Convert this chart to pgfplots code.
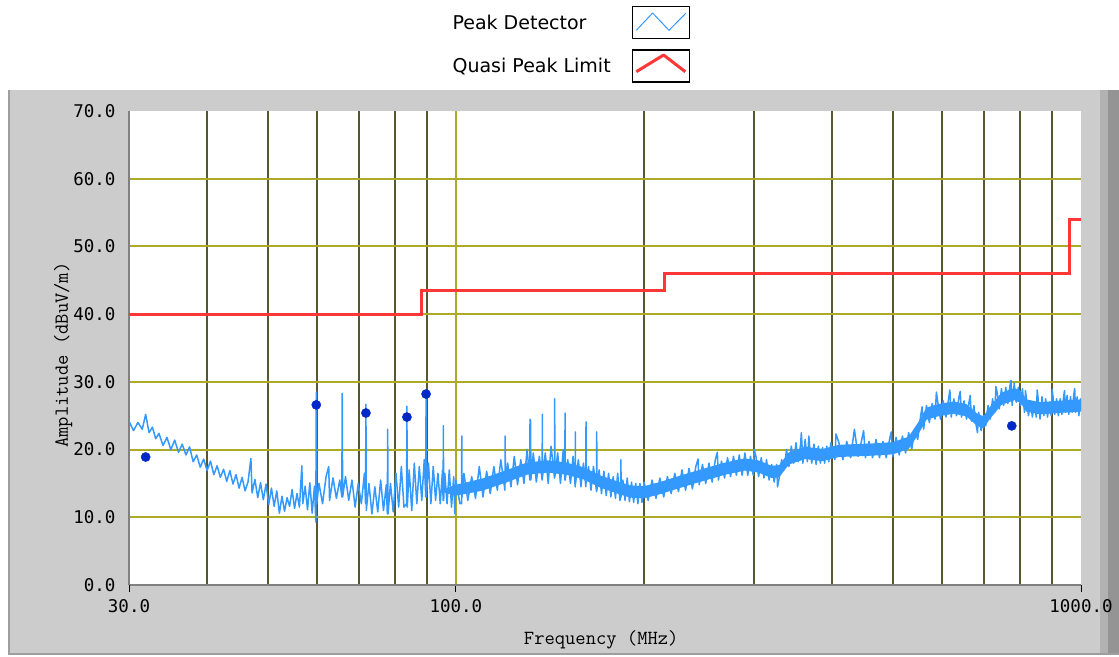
\documentclass[border=0pt]{standalone}
\usepackage{pgfplots}
\pgfplotsset{compat=1.18}
\usepackage{fontspec}
\setmainfont{DejaVu Sans}
\newfontfamily\tickfam{DejaVu Sans Mono}
\definecolor{peakblue}{RGB}{51,153,255}
\definecolor{dotblue}{RGB}{0,40,200}
\definecolor{limitred}{RGB}{255,55,55}
\definecolor{gridolive}{RGB}{172,170,40}
\definecolor{griddark}{RGB}{88,88,48}
\definecolor{panelgray}{RGB}{204,204,204}
\definecolor{axisgray}{RGB}{128,128,128}
\newcommand\tickfont{\tickfam\fontsize{17.5bp}{20bp}\selectfont}
\newcommand\labfont{\ttfamily\fontsize{20bp}{22bp}\selectfont}
\newcommand\legfont{\fontsize{19bp}{22bp}\selectfont}
\begin{document}
\begin{tikzpicture}
\useasboundingbox (0,0) rectangle (1119bp,657bp);
\fill[panelgray] (8bp,2bp) rectangle (1119bp,567bp);
\fill[black!30] (1100bp,2bp) rectangle (1108bp,567bp);
\fill[black!42] (1108bp,2bp) rectangle (1119bp,567bp);
\fill[black!38] (8bp,2bp) rectangle (10bp,567bp);
\fill[black!38] (8bp,2bp) rectangle (1119bp,4bp);
\begin{axis}[
  at={(129bp,72bp)}, anchor=south west,
  scale only axis, width=952bp, height=474bp,
  xmode=log, xmin=30, xmax=1000, ymin=0, ymax=70,
  xtick={100}, xticklabels={100.0},
  extra x ticks={30,1000}, extra x tick labels={30.0,1000.0},
  extra x tick style={grid=none},
  minor xtick={40,50,60,70,80,90,200,300,400,500,600,700,800,900},
  ytick={10,20,30,40,50,60}, yticklabels={10.0,20.0,30.0,40.0,50.0,60.0},
  extra y ticks={0,70}, extra y tick labels={0.0,70.0},
  extra y tick style={grid=none},
  xmajorgrids, xminorgrids, ymajorgrids,
  major grid style={draw=gridolive, line width=2bp},
  minor grid style={draw=griddark, line width=2bp},
  axis background/.style={fill=white},
  axis lines*=left,
  axis line style={draw=axisgray, line width=1.2bp},
  tick align=outside,
  major tick length=7bp, minor tick length=0bp,
  xtick style={draw=black, line width=0.8bp},
  ytick style={draw=none},
  tick label style={font=\tickfont, text=black},
  xticklabel style={yshift=-4bp},
  yticklabel style={xshift=-3bp},
  xlabel={Frequency (MHz)}, ylabel={Amplitude (dBuV/m)},
  label style={font=\labfont},
  xlabel style={at={(axis description cs:0.496,-0.116)}, anchor=center},
  ylabel style={at={(axis description cs:-0.0693,0.485)}, anchor=center},
  legend plot pos=right,
  legend style={at={(0.464,1.2215)}, anchor=north, draw=none, fill=none,
    inner sep=0pt, row sep=10bp, column sep=20bp, font=\legfont,
    nodes={inner sep=1bp}},
  legend cell align=left,
]
% solid core of the peak-detector noise band
\addplot[fill=peakblue, draw=none, forget plot] table {
96 14.2
100 14.8
110 15.7
120 16.9
130 18.1
140 18.4
150 18.1
160 17.4
170 16.2
180 15.4
190 14.7
200 14.6
212 15.2
224 15.9
239 16.7
254 17.4
270 18.1
290 18.7
305 18.4
320 17.6
329 17.7
341 19.6
362 20.4
386 20.1
410 20.7
463 20.9
500 21.1
530 21.9
548 23.9
566 26.2
590 26.7
626 27.1
656 26.7
680 25.4
698 24.9
716 26.4
746 28.4
782 29.1
800 28.7
818 27.4
860 27.0
920 27.2
1000 27.4
1000 25.6
920 25.4
860 25.2
818 25.6
800 26.9
782 27.3
746 26.6
716 24.6
698 23.1
680 23.6
656 24.9
626 25.3
590 24.9
566 24.4
548 22.1
530 20.1
500 19.3
463 19.1
410 18.9
386 18.3
362 18.6
341 17.8
329 15.9
320 15.8
305 16.6
290 16.9
270 16.3
254 15.6
239 14.9
224 14.1
212 13.4
200 12.8
190 12.9
180 13.6
170 14.4
160 15.6
150 16.3
140 16.6
130 16.3
120 15.1
110 13.9
100 13.2
96 13.6
} -- cycle;
\addplot[peakblue, line width=1.5bp, line join=round,
  legend image code/.code={
    \draw[black, line width=1.2bp, fill=white] (0bp,-16bp) rectangle (57bp,16bp);
    \draw[peakblue, line width=1bp] (4bp,-7.5bp) -- (20.3bp,9.8bp) -- (36.7bp,-7.5bp) -- (53.7bp,9.8bp);
  }] table {
30.0 24.2
30.5 22.8
31.0 24.0
31.5 23.0
31.9 25.2
32.3 22.5
32.7 23.3
33.1 21.6
33.5 22.4
34.0 20.6
34.5 21.8
35.0 20.0
35.5 21.4
36.0 19.6
36.5 20.8
37.0 19.2
37.5 20.4
38.0 18.2
38.5 19.2
39.0 17.4
39.5 18.6
40.0 16.9
40.5 18.3
41.0 16.3
41.5 17.6
42.0 15.9
42.5 17.1
43.0 15.3
43.5 16.9
44.0 14.9
44.5 16.3
45.0 14.3
45.5 15.9
46.0 13.9
46.5 15.2
47.0 18.7
47.2 13.6
47.7 15.6
48.2 12.9
48.7 15.1
49.2 12.6
49.7 14.9
50.2 11.9
50.7 14.3
51.2 11.6
51.7 13.9
52.2 10.6
52.7 13.1
53.2 10.9
53.7 12.9
54.2 11.6
54.7 14.1
55.2 11.3
55.7 13.5
56.2 11.5
56.7 17.6
56.9 12.0
57.4 14.6
57.9 11.1
58.4 15.1
58.9 10.6
59.4 14.6
59.7 9.3
59.8 28.5
59.9 12.0
60.4 15.0
61.2 12.0
62.0 16.0
62.6 17.5
62.8 12.5
63.6 15.8
64.4 12.8
65.2 15.5
65.7 13.0
65.8 28.3
65.9 13.0
66.6 16.0
67.4 12.5
68.2 15.5
69.0 11.5
69.8 15.0
70.6 12.0
71.4 16.5
71.7 12.0
71.8 26.7
71.9 11.0
72.6 15.0
73.4 10.5
74.2 14.5
75.0 10.8
75.8 15.5
76.6 11.0
77.4 14.8
77.7 10.5
77.8 23.0
77.9 10.5
78.6 15.0
79.4 10.8
80.2 16.5
81.0 11.5
81.8 17.5
82.6 11.5
83.4 12.0
83.5 26.4
83.6 11.5
84.2 17.0
85.0 11.0
85.8 18.0
86.6 12.0
87.4 17.5
88.2 12.5
89.0 18.5
89.5 13.0
89.6 28.3
89.7 13.0
90.4 18.0
91.2 12.0
92.0 17.5
92.8 12.5
93.6 16.5
94.4 12.0
95.2 17.0
95.4 12.5
95.5 23.5
95.6 12.5
96.0 16.5
96.8 12.0
97.6 17.0
98.4 11.5
99.2 16.0
99.6 10.5
100.0 15.5
101.5 12.0
102.1 12.0
102.2 22.0
102.3 13.0
103.0 16.5
104.5 12.5
106.0 16.0
107.5 12.8
109.0 17.5
110.5 13.0
112.0 16.8
113.5 13.5
115.0 17.5
116.5 14.0
118.0 18.5
119.8 14.0
119.9 22.0
120.0 15.0
121.0 18.0
122.5 14.5
124.0 19.0
125.5 14.8
127.0 18.5
128.5 15.0
130.0 20.0
131.3 15.5
131.4 24.5
131.6 16.0
131.7 24.3
131.8 15.5
133.0 19.5
134.5 15.2
136.0 19.0
137.4 15.5
137.5 25.2
137.6 16.0
139.0 19.5
140.5 15.0
142.0 20.5
143.8 15.8
143.9 27.5
144.0 16.0
145.5 19.5
147.0 15.0
148.5 20.0
149.4 15.5
149.5 25.4
149.6 15.5
151.0 18.5
152.5 15.0
154.0 19.0
155.2 14.5
155.3 22.6
155.4 15.0
157.0 18.5
158.5 14.5
160.0 18.0
161.4 14.5
161.5 24.1
161.6 15.0
163.0 17.5
164.5 14.0
166.0 17.5
167.9 13.8
168.0 22.6
168.1 14.0
169.5 17.0
171.0 13.5
172.5 16.8
174.0 13.2
175.5 16.5
177.0 13.0
178.5 16.0
180.0 12.8
181.5 16.5
183.0 12.5
183.6 13.0
183.7 18.5
183.8 13.0
185.0 15.5
186.5 12.5
188.0 15.8
189.5 12.3
191.0 15.2
192.5 12.2
194.0 15.0
195.5 12.0
197.0 15.0
198.5 12.2
200.0 15.2
203 12.5
206 15.5
209 12.8
212 15.8
215 13.0
218 16.0
221 13.5
224 16.5
227 13.8
230 17.0
233 14.0
236 17.2
239 14.2
242 17.5
244 18.6
245 14.8
248 17.8
251 15.0
254 18.0
257 15.2
260 18.5
262 19.6
263 15.5
266 18.3
269 15.8
272 18.8
275 16.0
278 19.0
281 16.2
284 19.2
287 16.2
290 19.5
293 16.2
296 19.0
299 16.2
300 20.0
302 19.0
305 16.0
308 18.8
311 15.8
314 18.5
317 15.5
320 17.8
323 15.2
326 17.8
327 14.5
329 15.8
332 18.5
335 17.0
338 20.0
341 17.5
344 20.5
347 18.0
350 21.0
353 18.2
356 20.8
357 22.5
359 18.0
362 21.5
365 18.2
367 22.0
368 20.5
371 18.0
374 20.8
377 17.8
380 20.5
383 18.0
386 20.3
389 18.0
392 20.5
395 18.2
398 21.0
404 18.5
405.5 22.3
410 21.0
416 18.5
422 21.2
428 18.8
434 23.0
440 19.0
446 21.5
449 22.8
452 18.8
458 21.2
464 18.8
470 21.5
476 18.8
482 21.2
488 18.8
494 21.5
497 22.6
500 19.0
506 21.8
512 19.2
518 22.0
524 19.5
530 22.5
536 20.0
542 23.0
548 21.5
554 25.0
557 26.3
560 23.0
566 26.5
572 24.0
578 26.8
584 24.5
587 28.5
590 27.0
596 24.5
602 27.2
608 24.8
614 27.5
617 28.8
620 24.8
626 27.5
632 25.0
638 27.8
641 28.6
644 24.8
650 27.2
656 24.5
662 27.0
665 28.0
668 24.2
674 26.5
680 23.5
683 22.5
686 25.5
692 22.8
698 25.0
704 23.5
710 26.5
716 24.5
722 27.5
728 25.5
731 29.3
734 28.5
740 26.0
746 29.0
752 26.5
758 29.2
764 26.8
770 29.5
773 30.2
776 26.5
782 29.8
788 27.0
794 29.2
800 26.5
806 29.0
812 25.5
815 28.7
818 27.5
824 25.0
830 27.2
836 24.8
842 27.0
848 24.8
851 28.8
854 27.5
860 24.5
866 27.8
872 25.0
878 27.5
884 24.8
890 27.0
896 25.0
899 28.9
902 27.8
908 25.2
914 27.5
920 25.0
926 27.5
932 25.2
938 27.8
941 28.7
944 25.5
950 28.0
956 25.2
962 27.8
968 25.5
974 28.2
977 29.0
980 25.5
986 27.8
992 25.0
998 27.5
1000 26.0
};
\addlegendentry{Peak Detector}
\addplot[limitred, line width=3bp,
  legend image code/.code={
    \draw[black, line width=1.2bp, fill=white] (0bp,-16bp) rectangle (57bp,16bp);
    \draw[limitred, line width=3bp, line join=round] (4bp,-5.7bp) -- (31.3bp,11bp) -- (53bp,-5.7bp);
  }] table {
30 40
88 40
88 43.5
216 43.5
216 46
960 46
960 54
1000 54
};
\addlegendentry{Quasi Peak Limit}
\addplot[only marks, mark=*, mark size=4.6bp, dotblue, forget plot] table {
31.9 18.9
59.8 26.6
71.8 25.4
83.5 24.8
89.6 28.2
775 23.5
};
\end{axis}
\end{tikzpicture}
\end{document}
